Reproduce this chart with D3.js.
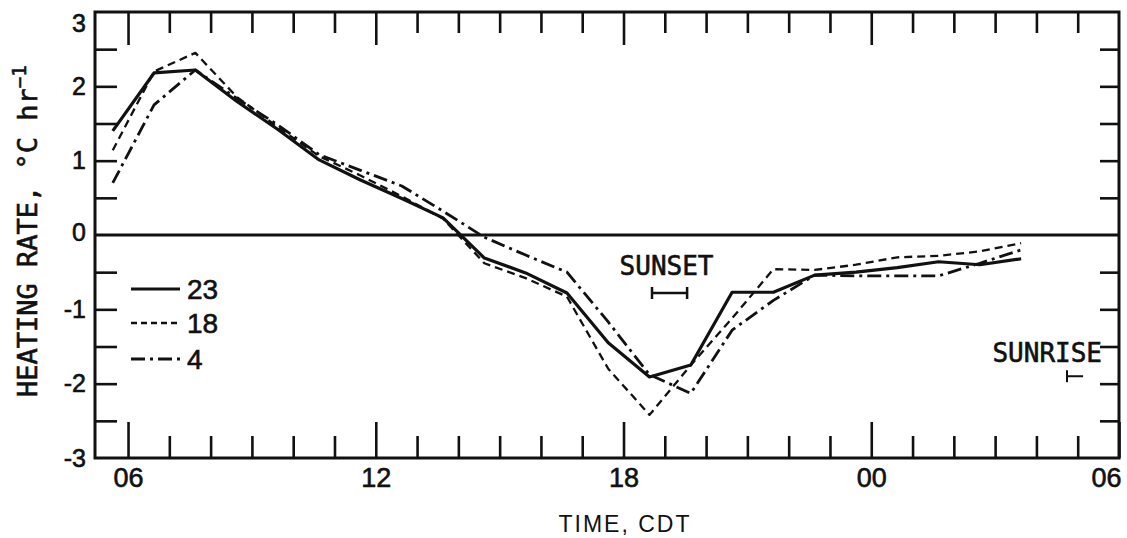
<!DOCTYPE html>
<html>
<head>
<meta charset="utf-8">
<script src="https://cdn.jsdelivr.net/npm/d3@7"></script>
<style>
  html, body { margin: 0; padding: 0; background: #fff; }
  svg { display: block; }
  svg text { stroke: #111; stroke-width: 0.6px; }
  svg text.thin { stroke: none; }
</style>
</head>
<body>
<svg id="chart" width="1127" height="538"></svg>
<script>
// Observation times (decimal hours, CDT; values above 24 fall after midnight)
const hours = [5.63, 6.63, 7.63, 8.63, 9.63, 10.63, 11.63, 12.63, 13.63, 14.63, 15.63, 16.63,
               17.63, 18.63, 19.63, 20.63, 21.63, 22.63, 23.63, 24.63, 25.63, 26.63, 27.63];

// Heating rate, °C per hour, for each of the three curves
const rate23 = [1.40, 2.18, 2.22, 1.80, 1.42, 1.01, 0.74, 0.49, 0.23, -0.31, -0.51, -0.78,
                -1.45, -1.91, -1.75, -0.77, -0.77, -0.54, -0.50, -0.44, -0.36, -0.40, -0.32];
const rate18 = [1.14, 2.20, 2.45, 1.86, 1.45, 1.06, 0.80, 0.52, 0.22, -0.38, -0.58, -0.83,
                -1.80, -2.42, -1.75, -1.12, -0.46, -0.47, -0.40, -0.30, -0.28, -0.22, -0.11];
const rate4  = [0.70, 1.75, 2.22, 1.84, 1.48, 1.08, 0.87, 0.66, 0.32, -0.03, -0.27, -0.50,
                -1.17, -1.88, -2.13, -1.28, -0.88, -0.54, -0.55, -0.55, -0.55, -0.38, -0.20];

const seriesNames = ["23", "18", "4"];

// Axis ticks and labels
const majorHours = [6, 12, 18, 24, 30];
const majorLabels = ["06", "12", "18", "00", "06"];
const hourTicks = [7, 8, 9, 10, 11, 13, 14, 15, 16, 17, 19, 20, 21, 22, 23, 25, 26, 27, 28, 29];
const yLabelTicks = [-3, -2, -1, 0, 1, 2, 3];
const yHalfTicks = [-2.5, -2, -1.5, -1, -0.5, 0.5, 1, 1.5, 2, 2.5];

// Sunset and sunrise time ranges (hours)
const sunset = [18.69, 19.54];
const sunrise = [28.74, 29.13];

const svg = d3.select("#chart");
const ink = "#111";
const sans = "Liberation Sans, Arial, sans-serif";
const mono = "DejaVu Sans Mono, monospace";

const x = d3.scaleLinear().domain([5.2, 30]).range([95, 1119]);
const y = d3.scaleLinear().domain([-3, 3]).range([458, 12]);

const [x0, x1] = x.range();
const [yb, yt] = y.range();

// Bottom axis: hourly ticks pointing inward, longer ticks every six hours
svg.append("g").attr("transform", `translate(0,${yb})`)
  .call(d3.axisBottom(x).tickValues(hourTicks).tickSizeInner(-22).tickSizeOuter(0).tickFormat(""))
  .call(g => g.select(".domain").remove());
const bottomMajor = svg.append("g").attr("transform", `translate(0,${yb})`)
  .call(d3.axisBottom(x).tickValues(majorHours).tickSizeInner(-36).tickSizeOuter(0).tickPadding(10)
    .tickFormat((d, i) => majorLabels[i]))
  .call(g => g.select(".domain").remove());
bottomMajor.selectAll("text")
  .attr("font-family", sans).attr("font-size", 27).attr("fill", ink);
bottomMajor.selectAll(".tick").filter(d => d === 30).select("text")
  .attr("text-anchor", "end").attr("x", 2);

// Top axis mirrors the bottom ticks
svg.append("g").attr("transform", `translate(0,${yt})`)
  .call(d3.axisTop(x).tickValues(hourTicks).tickSizeInner(-21).tickSizeOuter(0).tickFormat(""))
  .call(g => g.select(".domain").remove());
svg.append("g").attr("transform", `translate(0,${yt})`)
  .call(d3.axisTop(x).tickValues(majorHours.slice(0, 4)).tickSizeInner(-33).tickSizeOuter(0).tickFormat(""))
  .call(g => g.select(".domain").remove());

// Left axis: half-unit ticks inward, integer labels outside
svg.append("g").attr("transform", `translate(${x0},0)`)
  .call(d3.axisLeft(y).tickValues(yHalfTicks).tickSizeInner(-22).tickSizeOuter(0).tickFormat(""))
  .call(g => g.select(".domain").remove());
const leftLabels = svg.append("g").attr("transform", `translate(${x0},0)`)
  .call(d3.axisLeft(y).tickValues(yLabelTicks).tickSize(0).tickPadding(9).tickFormat(d => String(d)))
  .call(g => g.select(".domain").remove());
leftLabels.selectAll("text")
  .attr("font-family", sans).attr("font-size", 25).attr("fill", ink);
leftLabels.selectAll(".tick").filter(d => d === 3).select("text").attr("y", 11);
leftLabels.selectAll(".tick").filter(d => d === 0).select("text").attr("y", -3);

// Right axis ticks
svg.append("g").attr("transform", `translate(${x1},0)`)
  .call(d3.axisRight(y).tickValues(yHalfTicks).tickSizeInner(-19).tickSizeOuter(0).tickFormat(""))
  .call(g => g.select(".domain").remove());

svg.selectAll(".tick line").attr("stroke", ink).attr("stroke-width", 2.6);

// Frame
svg.append("rect")
  .attr("x", x0).attr("y", yt).attr("width", x1 - x0).attr("height", yb - yt)
  .attr("fill", "none").attr("stroke", ink).attr("stroke-width", 3);

// Zero line
svg.append("line")
  .attr("x1", x0).attr("x2", x1).attr("y1", y(0)).attr("y2", y(0))
  .attr("stroke", ink).attr("stroke-width", 3);

// Curves
const styles = {
  "23": { width: 3.2, dash: null },
  "18": { width: 2.3, dash: "8,5" },
  "4":  { width: 2.8, dash: "14,5,3,5" }
};
const seriesData = { "23": rate23, "18": rate18, "4": rate4 };
const line = d3.line().x(d => x(d[0])).y(d => y(d[1]));

seriesNames.forEach(name => {
  const pts = hours.map((h, i) => [h, seriesData[name][i]]);
  svg.append("path")
    .datum(pts)
    .attr("d", line)
    .attr("fill", "none")
    .attr("stroke", ink)
    .attr("stroke-width", styles[name].width)
    .attr("stroke-linejoin", "round")
    .attr("stroke-dasharray", styles[name].dash);
});

// Legend
const legend = svg.append("g");
const legendY = [289, 323, 359];
seriesNames.forEach((name, i) => {
  legend.append("line")
    .attr("x1", 131).attr("x2", 180).attr("y1", legendY[i]).attr("y2", legendY[i])
    .attr("stroke", ink).attr("stroke-width", styles[name].width)
    .attr("stroke-dasharray", name === "18" ? "6,4" : styles[name].dash);
  legend.append("text")
    .attr("x", 187).attr("y", legendY[i] + 10)
    .attr("font-family", sans).attr("font-size", 28).attr("fill", ink)
    .text(name);
});

// Sunset marker
const ySun = y(-0.78);
svg.append("text")
  .attr("x", (x(sunset[0]) + x(sunset[1])) / 2 - 3).attr("y", 275)
  .attr("text-anchor", "middle")
  .attr("font-family", mono).attr("font-size", 26).attr("fill", ink)
  .text("SUNSET");
svg.append("line")
  .attr("x1", x(sunset[0])).attr("x2", x(sunset[1])).attr("y1", ySun).attr("y2", ySun)
  .attr("stroke", ink).attr("stroke-width", 2.5);
sunset.forEach(t => svg.append("line")
  .attr("x1", x(t)).attr("x2", x(t)).attr("y1", ySun - 6).attr("y2", ySun + 6)
  .attr("stroke", ink).attr("stroke-width", 2.5));

// Sunrise marker
const yRise = y(-1.90);
svg.append("text")
  .attr("x", 1102).attr("y", 362)
  .attr("text-anchor", "end")
  .attr("font-family", mono).attr("font-size", 26).attr("fill", ink)
  .text("SUNRISE");
svg.append("line")
  .attr("x1", x(sunrise[0])).attr("x2", x(sunrise[1])).attr("y1", yRise).attr("y2", yRise)
  .attr("stroke", ink).attr("stroke-width", 2);
svg.append("line")
  .attr("x1", x(sunrise[0])).attr("x2", x(sunrise[0])).attr("y1", yRise - 6).attr("y2", yRise + 6)
  .attr("stroke", ink).attr("stroke-width", 2);

// Axis titles
const yTitle = svg.append("text")
  .attr("transform", "translate(37,397) rotate(-90)")
  .attr("font-family", mono).attr("font-size", 27).attr("fill", ink);
yTitle.append("tspan").text("HEATING RATE, °C hr");
yTitle.append("tspan").attr("dy", -11).attr("font-size", 19).text("−1");

svg.append("text")
  .attr("class", "thin")
  .attr("x", 625).attr("y", 532)
  .attr("text-anchor", "middle")
  .attr("font-family", sans)
  .attr("font-size", 23).attr("letter-spacing", 2).attr("fill", ink)
  .text("TIME, CDT");
</script>
</body>
</html>
